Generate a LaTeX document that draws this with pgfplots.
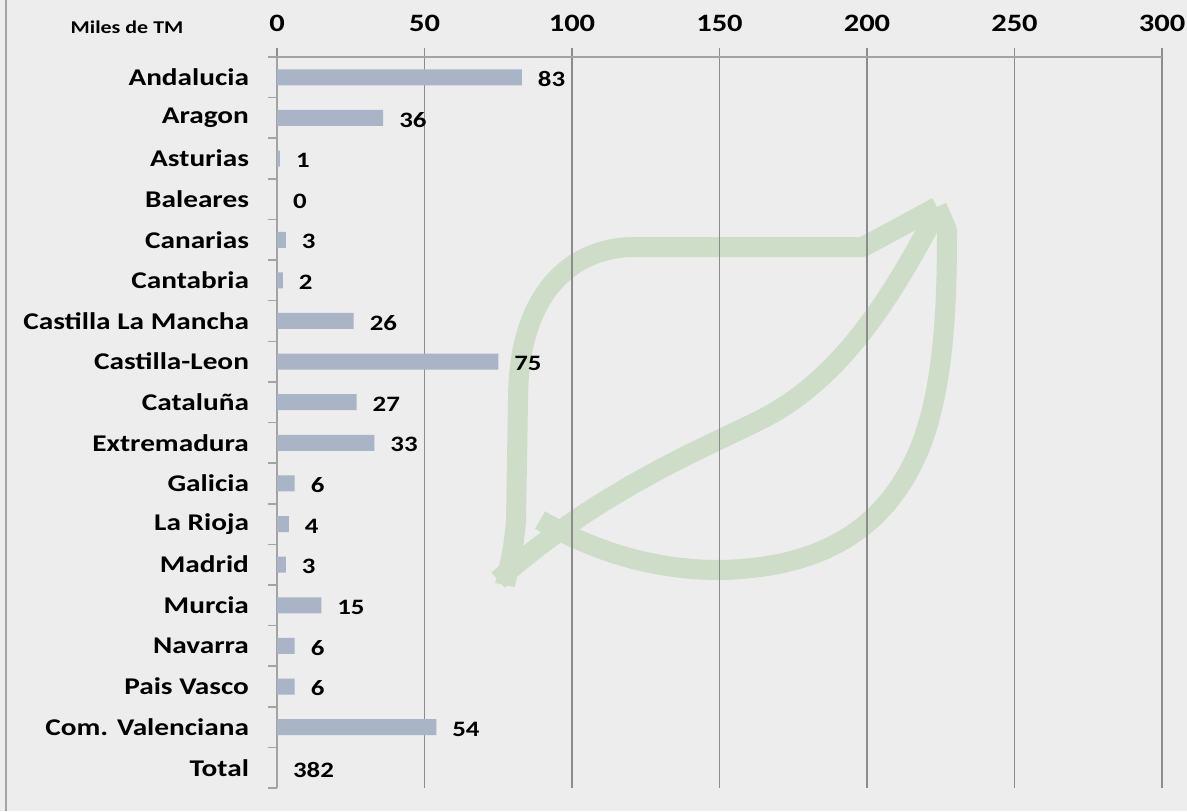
\documentclass[border=0pt]{standalone}
\usepackage{fontspec}
\setmainfont{Carlito}[FakeStretch=1.22]
\usepackage{pgfplots}
\pgfplotsset{compat=1.18}
\usepackage{pgfplotstable}
\definecolor{bg}{HTML}{EDEDED}
\definecolor{barc}{HTML}{A9B4C6}
\definecolor{gridc}{HTML}{8C8C8C}
\definecolor{axc}{HTML}{A3A3A3}
\definecolor{leafc}{HTML}{CDDDC7}

\pgfplotstableread[col sep=comma]{
idx,val,lab
0,83,83
1,36,36
2,1,1
3,0,0
4,3,3
5,2,2
6,26,26
7,75,75
8,27,27
9,33,33
10,6,6
11,4,4
12,3,3
13,15,15
14,6,6
15,6,6
16,54,54
17,0,382
}\datatable

\begin{document}
\begin{tikzpicture}
\path[use as bounding box] (0,0) rectangle (593.5pt,-405.5pt);
\begin{scope}[x=0.5pt,y=-0.5pt]
\fill[bg] (0,0) rectangle (1187,811);
\draw[axc, line width=1pt] (6,0) -- (6,811);
% decorative leaf watermark
\begin{scope}[draw=leafc, line width=10pt, line cap=butt, line join=round]
\draw (937,207) -- (863,247) -- (630,247) .. controls (565,250) and (518,300) .. (518,400) -- (516,520) .. controls (514,550) and (508,570) .. (505,585);
\draw (540,520) .. controls (600,555) and (660,570) .. (720,570) .. controls (820,568) and (880,530) .. (913,463) .. controls (945,400) and (947,300) .. (947,230) -- (937,207);
\draw (498,580) .. controls (600,490) and (700,450) .. (760,420) .. controls (840,380) and (890,300) .. (935,215);
\end{scope}
\end{scope}
\begin{axis}[
  at={(138.5pt,-28.5pt)}, anchor=north west,
  width=442.5pt, height=365.5pt, scale only axis,
  xmin=0, xmax=300, ymin=-0.5, ymax=17.5, y dir=reverse,
  axis x line*=top, axis y line*=left,
  axis line style={axc, line width=1pt, -},
  xtick={0,50,...,300},
  xmajorgrids, grid style={gridc, line width=0.6pt},
  tick align=outside, major tick length=4.5pt,
  xtick style={draw=gridc, line width=0.6pt},
  /pgf/number format/assume math mode=true,
  xticklabel style={font=\bfseries\fontsize{12.5}{14}\selectfont, yshift=4.5pt},
  ytick={0,...,17},
  yticklabels={Andalucia,Aragon,Asturias,Baleares,Canarias,Cantabria,Castilla La Mancha,Castilla-Leon,Cataluña,Extremadura,Galicia,La Rioja,Madrid,Murcia,Navarra,Pais Vasco,Com. Valenciana,Total},
  ytick style={draw=none},
  yticklabel style={font=\bfseries\fontsize{12}{14}\selectfont, xshift=-6pt},
  extra y ticks={-0.5,0.5,...,17.5},
  extra y tick labels={},
  extra y tick style={ytick style={draw=axc, line width=0.8pt}, grid=none},
  xbar, bar width=8pt,
  nodes near coords,
  nodes near coords style={font=\bfseries\fontsize{11}{12}\selectfont, anchor=west, xshift=4.5pt, yshift=-1pt, text=black},
  clip=false,
]
\addplot[fill=barc, draw=none, point meta=explicit symbolic] table[x=val, y=idx, meta=lab] {\datatable};
\end{axis}
\begin{scope}[x=0.5pt,y=-0.5pt]
\node[font=\bfseries\fontsize{9}{10}\selectfont] at (127,27) {Miles de TM};
\end{scope}
\end{tikzpicture}
\end{document}
